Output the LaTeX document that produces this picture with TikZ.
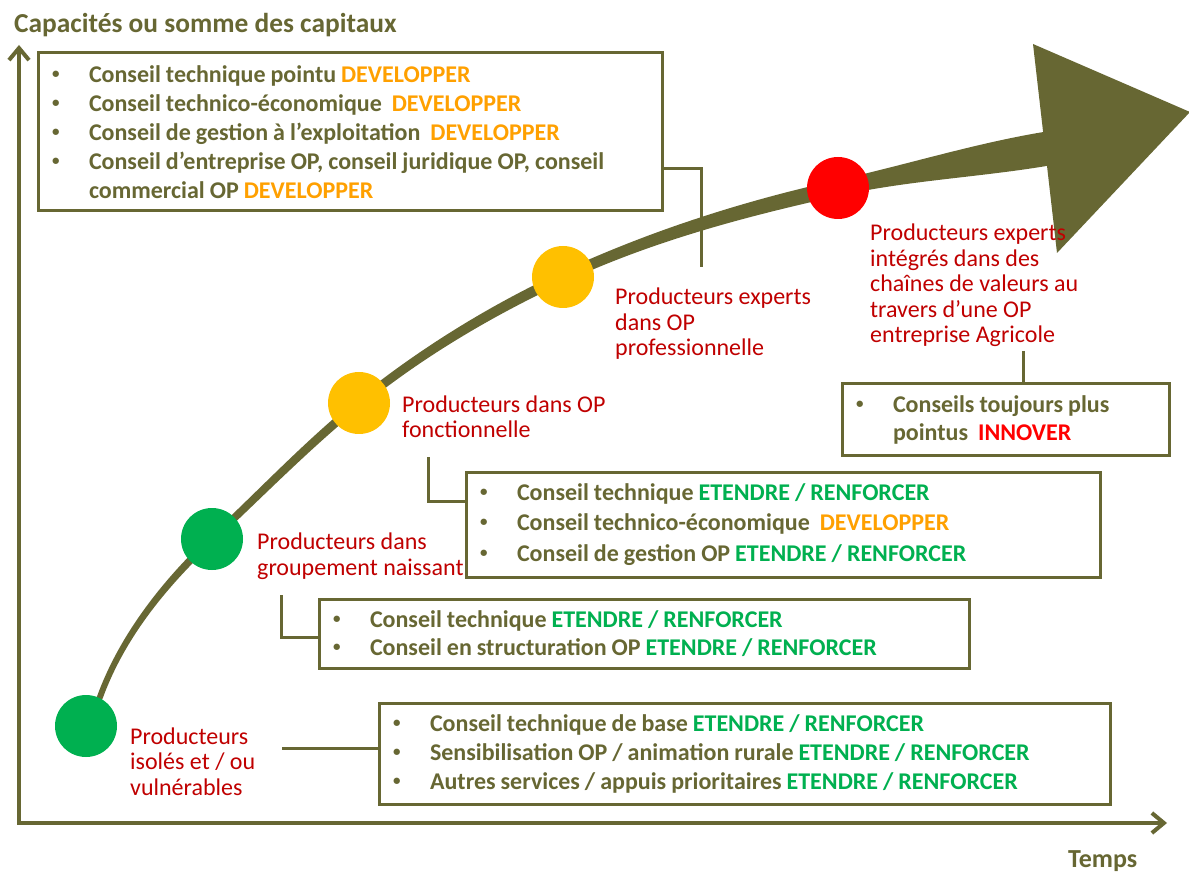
\documentclass[tikz,border=0pt]{standalone}
\usepackage{fontspec}
\setmainfont{Carlito}
\usetikzlibrary{arrows.meta,calc}
\definecolor{olv}{HTML}{676733}
\definecolor{grn}{HTML}{00B050}
\definecolor{org}{HTML}{FFA000}
\definecolor{dred}{HTML}{C00000}
\definecolor{brd}{HTML}{FF0000}
\definecolor{ylw}{HTML}{FFC000}
\newcommand{\li}[1]{\mbox{\spaceskip=5pt\xspaceskip=5pt\relax\makebox[37pt][l]{\raisebox{4pt}{\fontsize{15}{15}\selectfont •}}#1}}
\newcommand{\lc}[1]{\mbox{\spaceskip=5pt\xspaceskip=5pt\relax\hspace*{37pt}#1}}
\newcommand{\ER}{\textcolor{grn}{ETENDRE / RENFORCER}}
\newcommand{\DV}{\textcolor{org}{DEVELOPPER}}
\begin{document}
\begin{tikzpicture}[x=1pt,y=-1pt,
 box/.style={draw=olv, line width=3pt, anchor=north west, outer sep=0pt, inner xsep=14pt, inner ysep=0pt, align=left, text=olv},
 bfont/.style={font=\bfseries\fontsize{24}{#1}\selectfont},
 lbl/.style={anchor=base west, inner sep=0pt, align=left, font=\fontsize{24}{25.5}\selectfont, text=dred},
 conn/.style={draw=olv, line width=3pt},
 dot/.style={circle, inner sep=0pt, minimum size=62pt},
 ttl/.style={anchor=base west, inner sep=0pt, text=olv},
]
\useasboundingbox (0,0) rectangle (1189,874);
\fill[white] (0,0) rectangle (1189,874);

% axes
\coordinate (ytip) at (19,45);
\coordinate (orig) at (19,823);
\coordinate (xtip) at (1167,823);
\draw[olv, line width=4pt, {Straight Barb[length=12pt,width=20pt]}-{Straight Barb[length=12pt,width=20pt]}] (ytip) -- (orig) -- (xtip);
\node[ttl, font=\bfseries\fontsize{27.4}{30}\selectfont] (title) at (14,33) {Capacités ou somme des capitaux};
\node[ttl, font=\bfseries\fontsize{26}{30}\selectfont] (temps) at (1068,867) {Temps};

% growth curve (tapered)
\fill[olv] (92,708) -- (97.18,695.97)
 .. controls (119.28,635.27) and (162.21,580.32) .. (209.41,536.22)
 .. controls (258.31,490.62) and (304.33,441.58) .. (356.23,399.58)
 .. controls (418.33,349.28) and (488.36,306.0) .. (560.76,272.2)
 .. controls (648.06,231.5) and (742.31,201.18) .. (836.31,180.38)
 .. controls (904.81,165.18) and (972.99,143.83) .. (1042.19,132.23)
 -- (1052,131) -- (1054,165) -- (1047.81,165.77)
 .. controls (978.61,177.37) and (908.19,180.42) .. (839.69,195.62)
 .. controls (745.69,216.42) and (652.54,241.1) .. (565.24,281.8)
 .. controls (492.84,315.6) and (423.87,356.12) .. (361.77,406.42)
 .. controls (309.87,448.42) and (263.49,496.18) .. (214.59,541.78)
 .. controls (167.39,585.88) and (124.92,637.33) .. (102.82,698.03)
 -- (97,710) -- cycle;
\fill[olv] (1033,44) -- (1190,112) -- (1057,253) -- cycle;

% circles
\node[dot, fill=grn] (c1) at (86,726) {};
\node[dot, fill=grn] (c2) at (212,539) {};
\node[dot, fill=ylw] (c3) at (359,403) {};
\node[dot, fill=ylw] (c4) at (563,277) {};
\node[dot, fill=brd] (c5) at (838,188) {};

% labels (anchored at the baseline of the last line)
\node[lbl] (l1) at (130,795) {Producteurs\\isolés et / ou\\vulnérables};
\node[lbl] (l2) at (257,575) {Producteurs dans\\groupement naissant};
\node[lbl] (l3) at (402,438) {Producteurs dans OP\\fonctionnelle};
\node[lbl] (l4) at (615,356) {Producteurs experts\\dans OP\\professionnelle};
\node[lbl] (l5) at (870,343) {Producteurs experts\\intégrés dans des\\chaînes de valeurs au\\travers d’une OP\\entreprise Agricole};

% boxes
\node[box, bfont=29, text width=596pt, minimum height=158pt] (box1) at (38,53)
 {\li{Conseil technique pointu \DV}\\
  \li{Conseil technico-économique~ \DV}\\
  \li{Conseil de gestion à l’exploitation~ \DV}\\
  \li{Conseil d’entreprise OP, conseil juridique OP, conseil}\\
  \lc{commercial OP \DV}};
\node[box, bfont=28, text width=299pt, minimum height=71pt] (box2) at (842,384)
 {\li{Conseils toujours plus}\\
  \lc{pointus~ \textcolor{brd}{INNOVER}}};
\node[box, bfont=30.5, text width=606pt, minimum height=105pt] (box3) at (466,472)
 {\li{Conseil technique \ER}\\
  \li{Conseil technico-économique~ \DV}\\
  \li{Conseil de gestion OP \ER}};
\node[box, bfont=28, text width=622pt, minimum height=69pt] (box4) at (319,599)
 {\li{Conseil technique \ER}\\
  \li{Conseil en structuration OP \ER}};
\node[box, bfont=29, text width=703pt, minimum height=101pt] (box5) at (379,703)
 {\li{Conseil technique de base \ER}\\
  \li{Sensibilisation OP / animation rurale \ER}\\
  \li{Autres services / appuis prioritaires \ER}};

% connectors
\coordinate (k1t) at (701,169);
\coordinate (k1) at (701,267);
\draw[conn] (box1.east |- k1t) -- (k1t) -- (k1);
\coordinate (k2) at (1023,351);
\draw[conn] (k2) -- (k2 |- box2.north);
\coordinate (k3) at (428,457);
\draw[conn] (k3) |- ([yshift=23.5pt]box3.west);
\coordinate (k4) at (281,595);
\draw[conn] (k4) |- ([yshift=-3.5pt]box4.west);
\coordinate (k5) at (282,748);
\draw[conn] (k5) -- (k5 -| box5.west);
\end{tikzpicture}
\end{document}
